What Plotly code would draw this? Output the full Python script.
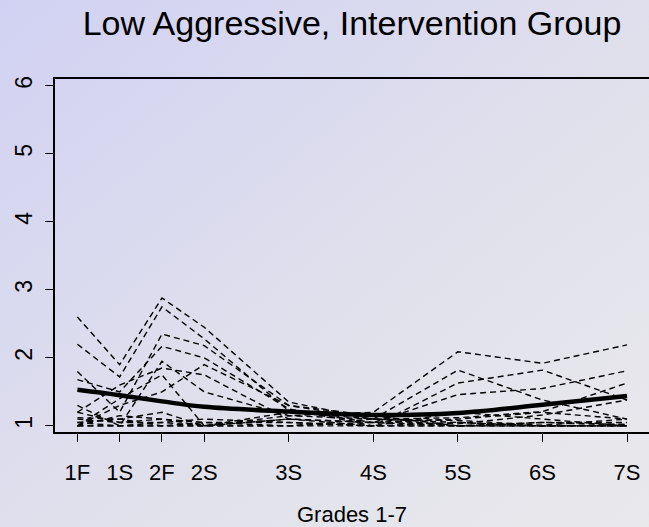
import base64
import plotly.graph_objects as go

# ---- data ----
grade_labels = ["1F", "1S", "2F", "2S", "3S", "4S", "5S", "6S", "7S"]
grade_pos = [1, 1.5, 2, 2.5, 3.5, 4.5, 5.5, 6.5, 7.5]
y_ticks = [1, 2, 3, 4, 5, 6]

individuals = [
    [2.60, 1.90, 2.88, 2.45, 1.35, 1.10, 1.05, 1.00, 1.00],
    [2.20, 1.72, 2.75, 2.28, 1.22, 1.05, 1.00, 1.05, 1.02],
    [1.80, 1.20, 2.35, 2.18, 1.30, 1.10, 1.82, 1.38, 1.10],
    [1.68, 1.50, 2.17, 2.00, 1.25, 1.00, 1.63, 1.82, 1.38],
    [1.30, 1.00, 1.95, 1.50, 1.15, 1.20, 2.09, 1.92, 2.19],
    [1.20, 1.60, 1.85, 1.75, 1.10, 1.05, 1.46, 1.55, 1.81],
    [1.12, 1.10, 1.20, 1.00, 1.20, 1.10, 1.12, 1.21, 1.63],
    [1.00, 1.40, 1.75, 1.00, 1.10, 1.00, 1.00, 1.00, 1.02],
    [1.05, 1.00, 1.00, 1.00, 1.00, 1.05, 1.03, 1.16, 1.38],
    [1.00, 1.00, 1.00, 1.00, 1.00, 1.00, 1.00, 1.00, 1.00],
    [1.10, 1.05, 1.05, 1.00, 1.15, 1.10, 1.08, 1.01, 1.10],
    [1.00, 1.15, 1.10, 1.05, 1.05, 1.00, 1.20, 1.10, 1.00],
    [1.05, 1.10, 1.00, 1.05, 1.00, 1.10, 1.00, 1.05, 1.05],
    [1.00, 1.00, 1.05, 1.10, 1.05, 1.00, 1.05, 1.00, 1.00],
    [1.20, 1.05, 1.10, 1.00, 1.10, 1.05, 1.10, 1.20, 1.10],
    [1.00, 1.30, 1.50, 1.90, 1.30, 1.15, 1.00, 1.00, 1.00],
]

mean_curve = [1.53, 1.45, 1.36, 1.28, 1.21, 1.16, 1.19, 1.31, 1.44]

# ---- figure ----
fig = go.Figure()
for ind in individuals:
    fig.add_trace(go.Scatter(
        x=grade_pos, y=ind, mode="lines",
        line=dict(color="black", width=1.4, dash="6px,4px"),
        showlegend=False, hoverinfo="skip"))

fig.add_trace(go.Scatter(
    x=grade_pos, y=mean_curve, mode="lines",
    line=dict(color="black", width=4.5, shape="spline", smoothing=1.0),
    showlegend=False))

W, H = 649, 527
L, R, T, B = 55, 0, 79, 95
pw, ph = W - L - R, H - T - B

svg = (
    '<svg xmlns="http://www.w3.org/2000/svg" width="649" height="527" '
    'viewBox="0 0 649 527" preserveAspectRatio="none">'
    '<defs><linearGradient id="g" x1="0" y1="0" x2="1" y2="1">'
    '<stop offset="0" stop-color="#d1d1f3"/>'
    '<stop offset="0.55" stop-color="#e0e0ec"/>'
    '<stop offset="1" stop-color="#e9e9ec"/>'
    '</linearGradient></defs>'
    '<rect width="649" height="527" fill="url(#g)"/></svg>'
)
uri = "data:image/svg+xml;base64," + base64.b64encode(svg.encode()).decode()

fig.add_layout_image(dict(
    source=uri, xref="paper", yref="paper",
    x=-L / pw, y=1 + T / ph, sizex=W / pw, sizey=H / ph,
    xanchor="left", yanchor="top", sizing="stretch", layer="below"))

font = "Liberation Sans, Arial, Helvetica, sans-serif"
fig.update_layout(
    width=W, height=H,
    margin=dict(l=L, r=R, t=T, b=B, pad=0),
    paper_bgcolor="rgba(0,0,0,0)", plot_bgcolor="rgba(0,0,0,0)",
    font=dict(family=font, color="black"),
    title=dict(text="Low Aggressive, Intervention Group",
               font=dict(size=34, family=font, color="black"),
               x=(L + pw / 2) / W, xanchor="center",
               y=1 - 23 / H, yanchor="middle", xref="container", yref="container"),
    xaxis=dict(range=[0.735, 7.76], tickvals=grade_pos, ticktext=grade_labels,
               showgrid=False, zeroline=False, showline=True, linecolor="black",
               linewidth=1.5, mirror=True, ticks="outside", ticklen=8,
               tickwidth=1.3, tickcolor="black", tickfont=dict(size=22),
               ticklabelstandoff=12,
               title=dict(text="Grades 1-7", font=dict(size=22), standoff=22)),
    yaxis=dict(range=[0.91, 6.10], tickvals=y_ticks, showgrid=False,
               zeroline=False, showline=True, linecolor="black", linewidth=1.5,
               ticks="outside", ticklen=8, tickwidth=1.3, tickcolor="black",
               tickangle=-90, tickfont=dict(size=23), ticklabelstandoff=4),
)

fig.write_html("out.html")
